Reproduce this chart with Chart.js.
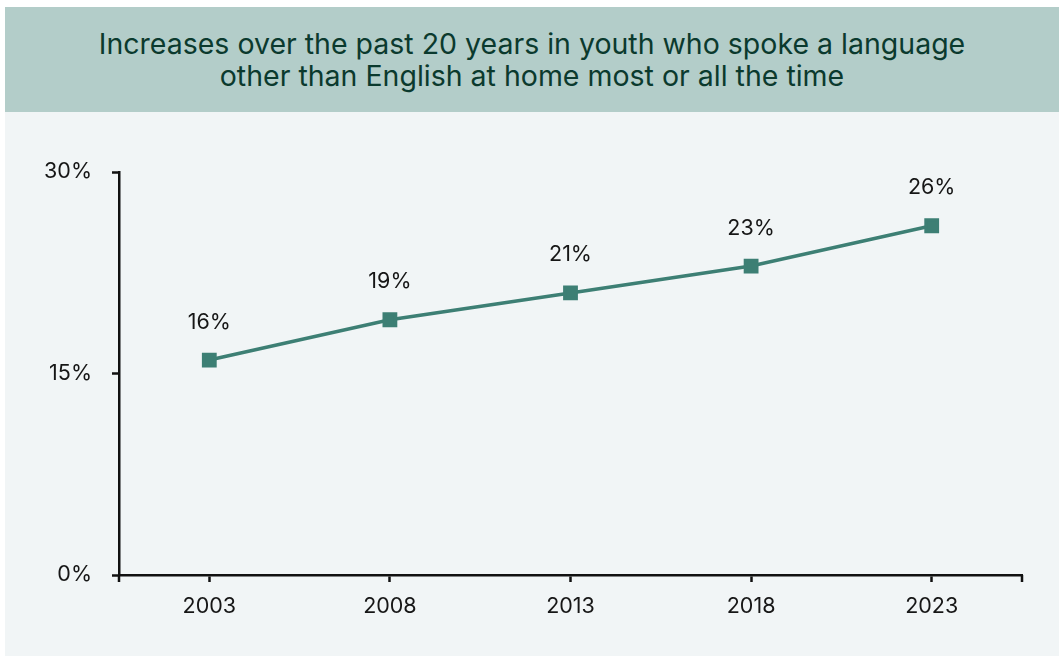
<!DOCTYPE html>
<html>
<head>
<meta charset="utf-8">
<script src="https://cdn.jsdelivr.net/npm/chart.js@4/dist/chart.umd.min.js"></script>
<style>
  html, body { margin: 0; padding: 0; background: #ffffff; }
  #panel { position: absolute; left: 5px; top: 7px; width: 1054px; height: 649px; background: #f1f5f6; }
  #header {
    height: 105px; background: #b3cdc9; color: #0b3a2e;
    font-family: Inter, "Noto Sans", sans-serif; font-size: 28.5px; line-height: 32px;
    display: flex; align-items: center; justify-content: center; text-align: center;
  }
  #wrap { position: absolute; left: 0; top: 105px; width: 1054px; height: 544px; }
</style>
</head>
<body>
<div id="panel">
  <div id="header">Increases over the past 20 years in youth who spoke a language<br>other than English at home most or all the time</div>
  <div id="wrap"><canvas id="chart"></canvas></div>
</div>
<script>
// Share of youth speaking another language at home, by survey year
const years = ['2003', '2008', '2013', '2018', '2023'];
const shares = [16, 19, 21, 23, 26];
const yTicks = [0, 15, 30];

const lineColor = '#3d7f74';
const axisColor = '#111111';
const textColor = '#161616';
const tickFont = { family: 'Inter', size: 21.5 };

// value labels above each point, plus the end ticks on the x axis
const extras = {
    id: 'extras',
    afterDatasetsDraw(chart) {
        const ctx = chart.ctx;
        const meta = chart.getDatasetMeta(0);
        ctx.save();
        ctx.font = '21.5px Inter';
        ctx.fillStyle = textColor;
        ctx.textAlign = 'center';
        ctx.textBaseline = 'middle';
        meta.data.forEach((pt, i) => {
            ctx.fillText(shares[i] + '%', pt.x, pt.y - 38);
        });
        const area = chart.chartArea;
        ctx.strokeStyle = axisColor;
        ctx.lineWidth = 2.5;
        ctx.beginPath();
        [area.left, area.right].forEach(x => {
            ctx.moveTo(x, area.bottom);
            ctx.lineTo(x, area.bottom + 7);
        });
        ctx.stroke();
        ctx.restore();
    }
};

plots = document.getElementById('chart');
new Chart(plots, {
    type: 'line',
    data: {
        labels: years,
        datasets: [{
            data: shares,
            borderColor: lineColor,
            backgroundColor: lineColor,
            borderWidth: 3.5,
            pointStyle: 'rect',
            pointRadius: 8,
            pointHoverRadius: 8,
            fill: false,
            tension: 0
        }]
    },
    options: {
        maintainAspectRatio: false,
        animation: false,
        layout: { padding: { left: 0, right: 37, top: 60, bottom: 0 } },
        plugins: {
            legend: { display: false },
            tooltip: { enabled: false }
        },
        scales: {
            x: {
                offset: true,
                afterFit(scale) { scale.height = 81; },
                border: { color: axisColor, width: 2.5 },
                grid: {
                    offset: false,
                    drawOnChartArea: false,
                    tickLength: 7,
                    tickColor: axisColor,
                    tickWidth: 2.5
                },
                ticks: { color: textColor, font: tickFont, padding: 12, maxRotation: 0 }
            },
            y: {
                min: 0,
                max: 30,
                afterFit(scale) { scale.width = 114; },
                afterBuildTicks(scale) { scale.ticks = yTicks.map(v => ({ value: v })); },
                border: { color: axisColor, width: 2.5 },
                grid: {
                    drawOnChartArea: false,
                    tickLength: 7,
                    tickColor: axisColor,
                    tickWidth: 2.5
                },
                ticks: {
                    color: textColor,
                    font: tickFont,
                    padding: 20,
                    callback: v => v + '%'
                }
            }
        }
    },
    plugins: [extras]
});
</script>
</body>
</html>
